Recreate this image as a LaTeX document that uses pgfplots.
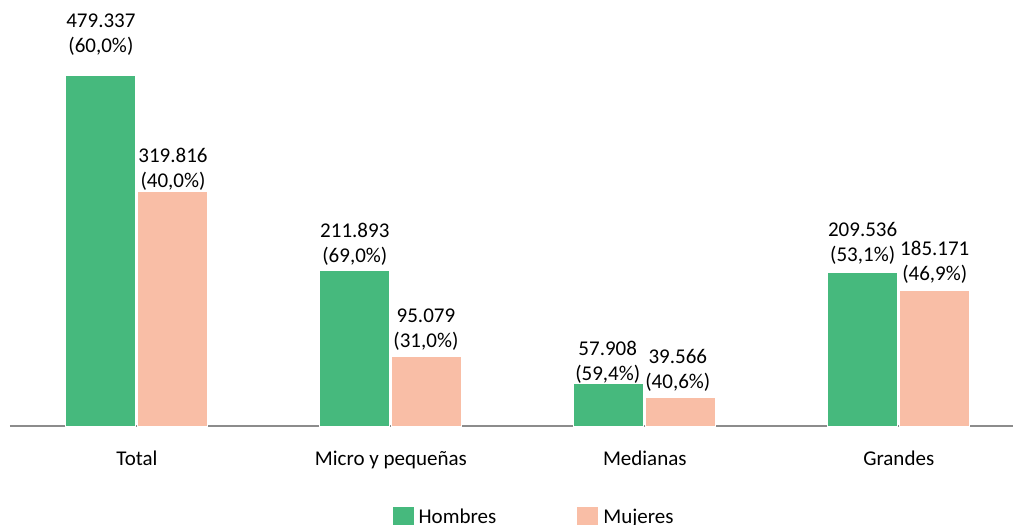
\documentclass[border=0pt]{standalone}
\usepackage{fontspec}
\setmainfont{Carlito}
\usepackage{pgfplots}
\pgfplotsset{compat=1.18}

\definecolor{hgreen}{RGB}{70,185,125}
\definecolor{msalmon}{RGB}{249,190,166}
\definecolor{axisgray}{RGB}{140,140,140}

\begin{document}
\begin{tikzpicture}[font=\fontsize{10.5}{12.4}\selectfont]
  \begin{axis}[
      scale only axis,
      width=501.5pt, height=213pt,
      xmin=-0.5, xmax=3.45,
      ymin=0, ymax=582000,
      clip=false,
      axis x line*=bottom,
      axis y line=none,
      x axis line style={draw=axisgray, line width=1pt},
      xtick={0,1,2,3},
      xticklabels={Total, Micro y pequeñas, Medianas, Grandes},
      xtick style={draw=none},
      xticklabel style={yshift=-9pt},
      ytick=\empty,
      legend style={draw=none, legend columns=-1,
        at={(rel axis cs:0.523,-0.215)}, anchor=center,
        /tikz/every even column/.append style={column sep=38pt}},
      legend image code/.code={
        \draw[#1, draw=white, line width=0.5pt] (0pt,-5.5pt) rectangle (11pt,5.5pt);},
    ]

    % barras
    \addplot[ybar, bar width=35pt, bar shift=-18pt, fill=hgreen, draw=white, line width=0.5pt]
      coordinates {(0,479337) (1,211893) (2,57908) (3,209536)};
    \addplot[ybar, bar width=35pt, bar shift=18pt, fill=msalmon, draw=white, line width=0.5pt]
      coordinates {(0,319816) (1,95079) (2,39566) (3,185171)};

    % etiquetas
    \addplot[draw=none, mark=none, forget plot, nodes near coords,
      point meta=explicit symbolic, nodes near coords align=center,
      every node near coord/.append style={align=center, inner sep=0pt}]
      coordinates {
        (-0.142,534150) [479.337\\(60,0\%)]
        (0.858,248630) [211.893\\(69,0\%)]
        (1.854,87430) [57.908\\(59,4\%)]
        (2.858,250000) [209.536\\(53,1\%)]
      };
    \addplot[draw=none, mark=none, forget plot, nodes near coords,
      point meta=explicit symbolic, nodes near coords align=center,
      every node near coord/.append style={align=center, inner sep=0pt}]
      coordinates {
        (0.142,351090) [319.816\\(40,0\%)]
        (1.138,131150) [95.079\\(31,0\%)]
        (2.130,76500) [39.566\\(40,6\%)]
        (3.142,224040) [185.171\\(46,9\%)]
      };

    \legend{Hombres, Mujeres}

    \coordinate (bl) at (rel axis cs:-0.00997,-0.23005);
    \coordinate (tr) at (rel axis cs:1,1);
  \end{axis}
  \pgfresetboundingbox
  \path[use as bounding box] (bl) rectangle (tr);
\end{tikzpicture}
\end{document}
